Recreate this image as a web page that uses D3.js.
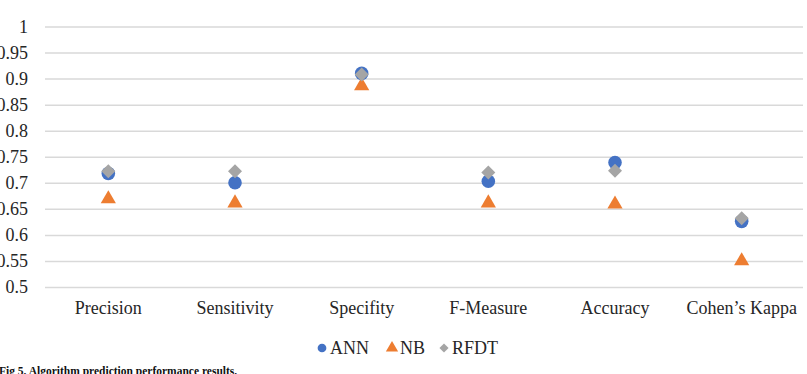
<!DOCTYPE html>
<html>
<head>
<meta charset="utf-8">
<script src="https://cdn.jsdelivr.net/npm/d3@7"></script>
<style>
  body { margin: 0; background: #fff; }
  svg { display: block; font-family: "Liberation Serif", "Times New Roman", serif; }
</style>
</head>
<body>
<div id="chart"></div>
<script>
// chart values
var categories = ["Precision", "Sensitivity", "Specifity", "F-Measure", "Accuracy", "Cohen\u2019s Kappa"];
var annValues = [0.718, 0.700, 0.910, 0.703, 0.739, 0.626];
var nbValues = [0.669, 0.661, 0.886, 0.661, 0.659, 0.550];
var rfdtValues = [0.722, 0.722, 0.908, 0.720, 0.723, 0.632];
var yTicks = [0.5, 0.55, 0.6, 0.65, 0.7, 0.75, 0.8, 0.85, 0.9, 0.95, 1];
var seriesNames = ["ANN", "NB", "RFDT"];

var svgWidth = 807;
var svgHeight = 374;

var plot = { left: 45, right: 805, top: 26.5, bottom: 287 };

var svg = d3.select("#chart")
  .append("svg")
  .attr("width", svgWidth)
  .attr("height", svgHeight);

var xScale = d3.scaleBand()
  .domain(categories)
  .range([plot.left, plot.right])
  .padding(0);

var yScale = d3.scaleLinear()
  .domain([0.5, 1])
  .range([plot.bottom, plot.top]);

// gridlines + y tick labels
var leftAxis = d3.axisLeft(yScale)
  .tickValues(yTicks)
  .tickFormat(d => String(+d.toFixed(2)))
  .tickSize(-(803 - plot.left))
  .tickPadding(17);

var yAxis = svg.append("g")
  .attr("transform", `translate(${plot.left},0)`)
  .call(leftAxis);
yAxis.select(".domain").remove();
yAxis.selectAll(".tick line")
  .attr("stroke", "#d9d9d9")
  .attr("stroke-width", 1.5);
yAxis.selectAll(".tick text")
  .attr("fill", "#262626")
  .style("font-size", "18px")
  .style("font-family", "Liberation Serif, serif");

// category labels
var bottomAxis = d3.axisBottom(xScale)
  .tickSize(0)
  .tickPadding(14);
var xAxis = svg.append("g")
  .attr("transform", `translate(0,${plot.bottom})`)
  .call(bottomAxis);
xAxis.select(".domain").remove();
xAxis.selectAll(".tick text")
  .attr("fill", "#262626")
  .style("font-size", "18px")
  .style("font-family", "Liberation Serif, serif");

var colors = { ANN: "#4472c4", NB: "#ed7d31", RFDT: "#a5a5a5" };
// diamond = square turned 45 degrees (as in the Excel marker)
var shapes = { ANN: d3.symbolCircle, NB: d3.symbolTriangle, RFDT: d3.symbolSquare };
var rotate = { ANN: 0, NB: 0, RFDT: 45 };
var sizes = { ANN: 145, NB: 100, RFDT: 98 };

var seriesData = [
  { name: "ANN", values: annValues },
  { name: "NB", values: nbValues },
  { name: "RFDT", values: rfdtValues }
];

var cx = c => xScale(c) + xScale.bandwidth() / 2;

seriesData.forEach(function(s) {
  svg.append("g")
    .selectAll("path")
    .data(s.values)
    .enter()
    .append("path")
    .attr("d", d3.symbol().type(shapes[s.name]).size(sizes[s.name]))
    .attr("transform", (d, i) => `translate(${cx(categories[i])},${yScale(d)}) rotate(${rotate[s.name]})`)
    .attr("fill", colors[s.name]);
});

// legend
var legendItems = [
  { name: "ANN", x: 322, size: 60 },
  { name: "NB", x: 392, size: 65 },
  { name: "RFDT", x: 444, size: 42 }
];
var legend = svg.append("g");
legendItems.forEach(function(item) {
  legend.append("path")
    .attr("d", d3.symbol().type(shapes[item.name]).size(item.size))
    .attr("transform", `translate(${item.x},348) rotate(${rotate[item.name]})`)
    .attr("fill", colors[item.name]);
  legend.append("text")
    .attr("x", item.x + 8)
    .attr("y", 354)
    .attr("fill", "#262626")
    .style("font-size", "18px")
    .text(item.name);
});

// figure caption
svg.append("text")
  .attr("x", -1)
  .attr("y", 375)
  .attr("fill", "#111")
  .style("font-size", "11.5px")
  .style("font-weight", "bold")
  .text("Fig 5. Algorithm prediction performance results.");
</script>
</body>
</html>
